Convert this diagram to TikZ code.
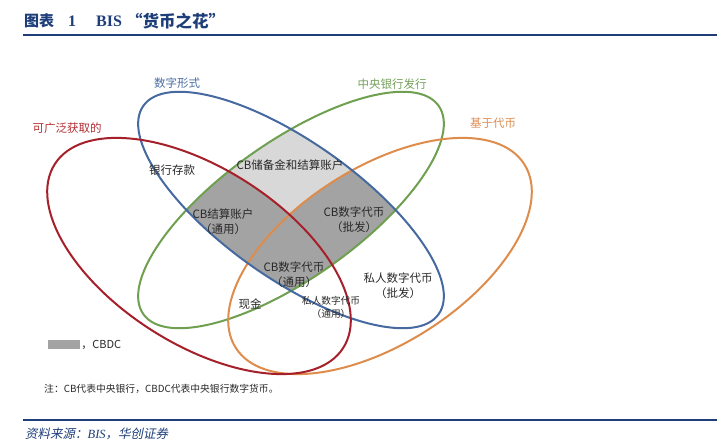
\documentclass[tikz,border=0pt]{standalone}
\usepackage{fontspec}
\setmainfont{Liberation Serif}
\newfontfamily\cjkf{Noto Sans CJK SC}
\newfontfamily\cjkslant[FakeSlant=0.2]{Noto Sans CJK SC}
\definecolor{titleblue}{RGB}{30,62,122}
\definecolor{redE}{RGB}{165,32,42}
\definecolor{blueE}{RGB}{70,105,160}
\definecolor{greenE}{RGB}{110,160,80}
\definecolor{orangeE}{RGB}{222,140,75}
\definecolor{redL}{RGB}{180,45,50}
\definecolor{blueL}{RGB}{75,110,165}
\definecolor{greenL}{RGB}{115,160,90}
\definecolor{orangeL}{RGB}{222,140,80}
\definecolor{lgray}{RGB}{216,216,216}
\definecolor{dgray}{RGB}{163,163,163}
\definecolor{txtgray}{RGB}{40,40,40}
\tikzset{
  lbl/.style={font=\cjkf\fontsize{11.5}{15}\selectfont, text=txtgray, align=center, inner sep=0pt},
  smalllbl/.style={font=\cjkf\fontsize{9.7}{13}\selectfont, text=txtgray, align=center, inner sep=0pt},
  setlbl/.style={font=\cjkf\fontsize{11.5}{14}\selectfont, inner sep=0pt},
  ell/.style={line width=2pt},
  rule/.style={titleblue, line width=2pt},
  ttl/.style={anchor=west, inner sep=0pt, text=titleblue}
}
\begin{document}
\begin{tikzpicture}[x=1pt,y=1pt]
\useasboundingbox (0,0) rectangle (717,444);
% title
\node[ttl, font=\cjkf\bfseries\fontsize{15}{17}\selectfont] (title1) at (24,423) {图表};
\node[ttl, font=\rmfamily\bfseries\fontsize{16}{18}\selectfont] (title2) at (68,423) {1};
\node[ttl, font=\rmfamily\bfseries\fontsize{16}{18}\selectfont] (title3) at (96,423) {BIS};
\node[ttl, font=\cjkf\bfseries\fontsize{16.5}{18}\selectfont] (title4) at (126,423) {“货币之花”};
\coordinate (tl) at (23,409);
\coordinate (tr) at (717,409);
\draw[rule] (tl) -- (tr);
% shaded regions
\begin{scope}
  \clip[rotate around={-35.2:(291,234)}] (291,234) ellipse [x radius=180.7, y radius=68.4];
  \clip[rotate around={35.2:(291,234)}] (291,234) ellipse [x radius=180.7, y radius=68.4];
  \fill[lgray] (0,0) rectangle (717,444);
  \fill[dgray, rotate around={-32.5:(199,188)}] (199,188) ellipse [x radius=171, y radius=88];
  \fill[dgray, rotate around={32.5:(380,188)}] (380,188) ellipse [x radius=171, y radius=88];
\end{scope}
% ellipses
\draw[ell, greenE, rotate around={35.2:(291,234)}] (291,234) ellipse [x radius=180.7, y radius=68.4];
\draw[ell, orangeE, rotate around={32.5:(380,188)}] (380,188) ellipse [x radius=171, y radius=88];
\draw[ell, blueE, rotate around={-35.2:(291,234)}] (291,234) ellipse [x radius=180.7, y radius=68.4];
\draw[ell, redE, rotate around={-32.5:(199,188)}] (199,188) ellipse [x radius=171, y radius=88];
% set labels
\node[setlbl, text=blueL] (sdigital) at (177,361) {数字形式};
\node[setlbl, text=redL] (saccess) at (67,316) {可广泛获取的};
\node[setlbl, text=greenL] (scb) at (392,360) {中央银行发行};
\node[setlbl, text=orangeL] (stoken) at (493,321) {基于代币};
% region labels
\node[lbl] (deposit) at (172,274) {银行存款};
\node[lbl] (reserve) at (290,279) {CB储备金和结算账户};
\node[lbl] (cbacct) at (223,222) {CB结算账户\\（通用）};
\node[lbl] (cbwhole) at (354,224) {CB数字代币\\（批发）};
\node[lbl] (cbgen) at (294,169) {CB数字代币\\（通用）};
\node[lbl] (cash) at (250,140) {现金};
\node[smalllbl] (privgen) at (331,137) {私人数字代币\\（通用）};
\node[lbl] (privwhole) at (398,158) {私人数字代币\\（批发）};
% legend
\node[fill=dgray, minimum width=32pt, minimum height=9pt, inner sep=0pt] (legbox) at (64,99.5) {};
\node[anchor=west, inner sep=0pt, font=\cjkf\fontsize{11}{13}\selectfont, text=txtgray] (legtext) at ([xshift=1pt]legbox.east) {，CBDC};
\node[anchor=west, inner sep=0pt, font=\cjkf\fontsize{9.8}{12}\selectfont, text=txtgray] (note) at (44,55)
  {注：CB代表中央银行，CBDC代表中央银行数字货币。};
% footer
\coordinate (bl) at (23,24);
\coordinate (br) at (717,24);
\draw[rule] (bl) -- (br);
\node[anchor=west, inner sep=0pt, text=titleblue, font=\cjkslant\fontsize{12.5}{14}\selectfont] (source) at (25,10)
  {资料来源：{\rmfamily\itshape BIS}，华创证券};
\end{tikzpicture}
\end{document}
